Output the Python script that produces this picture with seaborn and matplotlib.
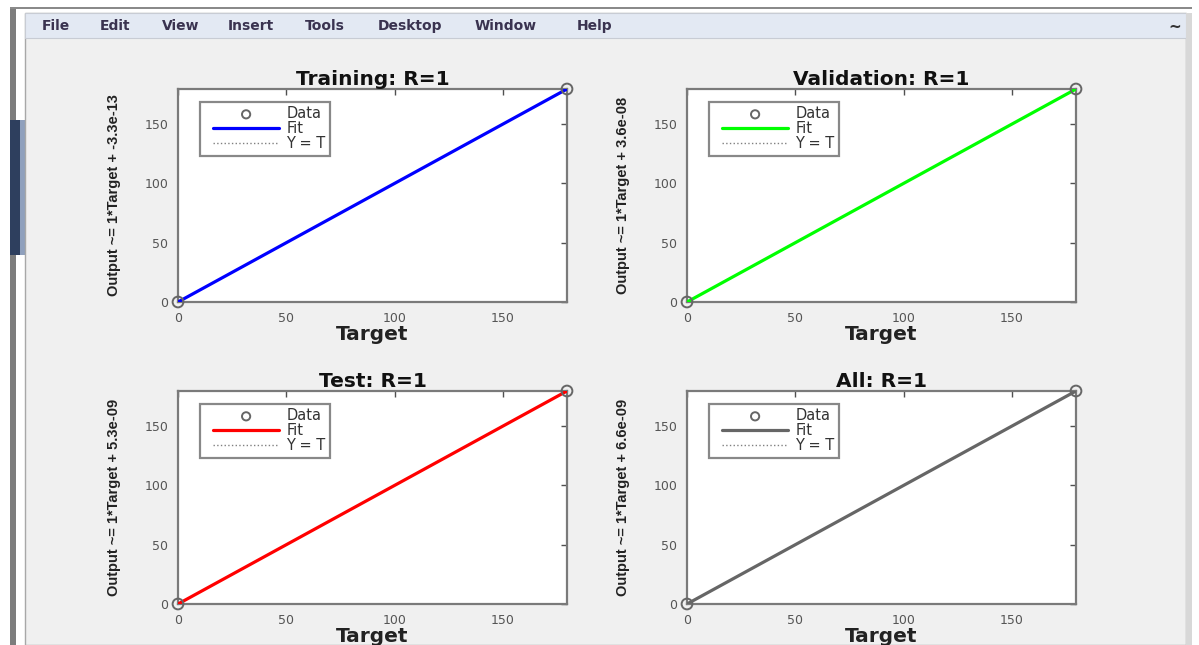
import numpy as np
import pandas as pd
import seaborn as sns
import matplotlib.pyplot as plt
from matplotlib.patches import Rectangle
from matplotlib.lines import Line2D
from matplotlib.collections import PathCollection
from matplotlib.legend_handler import HandlerLine2D, HandlerPathCollection

# regression results per data split
panels = ['Training', 'Validation', 'Test', 'All']
r_values = ['1', '1', '1', '1']
slopes = [1, 1, 1, 1]
intercepts = ['-3.3e-13', '3.6e-08', '5.3e-09', '6.6e-09']
fit_colors = ['#0000ff', '#00ff00', '#ff0000', '#666666']
target = [0, 179.5]
output = [0, 179.5]
xticks = [0, 50, 100, 150]
menu_items = ['File', 'Edit', 'View', 'Insert', 'Tools', 'Desktop', 'Window', 'Help']

sns.set_theme(style='white')
plt.rcParams['font.family'] = ['DejaVu Sans']
wide = ['DejaVu Sans']
tall = ['Liberation Sans', 'DejaVu Sans']

W, H = 1199, 645
fig = plt.figure(figsize=(W / 100, H / 100), dpi=100, facecolor='white')


def px(x, y):
    return x / W, 1 - y / H


def rect(x0, y0, x1, y1, **kw):
    fig.patches.append(Rectangle((x0 / W, 1 - y1 / H), (x1 - x0) / W, (y1 - y0) / H,
                                 transform=fig.transFigure, zorder=-10, **kw))


# window chrome
rect(10, 7, 16, 645, facecolor='#7d7d7d', edgecolor='none')
rect(10, 120, 20, 255, facecolor='#2e3f5e', edgecolor='none')
rect(20, 120, 25, 255, facecolor='#8fa0bd', edgecolor='none')
rect(10, 7, 1192, 9, facecolor='#8a8a8a', edgecolor='none')
rect(25, 13, 1186, 645, facecolor='#f0f0f0', edgecolor='#a8a8a8', linewidth=1)
rect(25, 13, 1186, 38, facecolor='#e3e9f3', edgecolor='#c8ccd4', linewidth=0.8)
rect(1186, 13, 1192, 645, facecolor='#d8d8d8', edgecolor='none')
menu_x = [42, 100, 162, 228, 305, 378, 475, 577]
for mx, item in zip(menu_x, menu_items):
    fig.text(*px(mx, 26), item, fontsize=10, fontweight='bold', color='#3a3350',
             family=wide, va='center', ha='left')
fig.text(*px(1168, 27), '~', fontsize=11, fontweight='bold', color='#333333', va='center')

positions = [(178, 89), (687, 89), (178, 391), (687, 391)]
aw, ah = 389, 213
gray = '#505050'
leg_fs = 10.5
hmap = {Line2D: HandlerLine2D(xpad=0.6),
        PathCollection: HandlerPathCollection(xpad=0.6, sizes=[35])}

for i, name in enumerate(panels):
    x0, y0 = positions[i]
    ax = fig.add_axes([x0 / W, 1 - (y0 + ah) / H, aw / W, ah / H])
    ax.set_facecolor('white')
    df = pd.DataFrame({'Target': target, 'Output': output})
    line_x = np.array(target)
    fit = pd.DataFrame({'Target': line_x, 'Fit': slopes[i] * line_x + float(intercepts[i])})

    sns.lineplot(data=fit, x='Target', y='Target', ax=ax, color='#808080',
                 linestyle=':', linewidth=1, label='Y = T', zorder=2)
    sns.lineplot(data=fit, x='Target', y='Fit', ax=ax, color=fit_colors[i],
                 linewidth=2.3, label='Fit', zorder=3)
    sns.scatterplot(data=df, x='Target', y='Output', ax=ax, marker='o', s=60,
                    facecolor='none', edgecolor='#666666', linewidth=1.4,
                    label='Data', zorder=4, clip_on=False)

    ax.set_xlim(target[0], target[-1])
    ax.set_ylim(output[0], output[-1])
    ax.set_xticks(xticks)
    ax.set_yticks(xticks)
    ax.tick_params(direction='in', length=4, width=1, colors=gray, labelsize=9,
                   top=True, right=True)
    ax.tick_params(axis='x', pad=7)
    ax.tick_params(axis='y', pad=7)
    for lab in ax.get_xticklabels() + ax.get_yticklabels():
        lab.set_color('#555555')
    for s in ax.spines.values():
        s.set_color('#7a7a7a')
        s.set_linewidth(1.6)

    ax.set_title(f'{name}: R={r_values[i]}', fontsize=14.5, fontweight='bold',
                 color='#111111', family=wide, pad=3)
    ax.set_xlabel('Target', fontsize=14.5, fontweight='bold', color='#222222',
                  family=wide, labelpad=0)
    ax.set_ylabel(f'Output ~= {slopes[i]}*Target + {intercepts[i]}', fontsize=10.5,
                  fontweight='bold', color='#222222', family=tall)
    ax.yaxis.set_label_coords(-0.147, 0.5)

    handles, labels = ax.get_legend_handles_labels()
    order = [labels.index('Data'), labels.index('Fit'), labels.index('Y = T')]
    leg = ax.legend([handles[k] for k in order], [labels[k] for k in order],
                    loc='upper left', bbox_to_anchor=(0.057, 0.94),
                    prop={'family': wide, 'size': leg_fs}, handler_map=hmap,
                    frameon=True, fancybox=False, handlelength=5.1, handletextpad=0.5,
                    borderpad=0.3, labelspacing=0.0, borderaxespad=0)
    leg.get_frame().set_edgecolor('#6a6a6a')
    leg.get_frame().set_linewidth(1.6)
    for t in leg.get_texts():
        t.set_color('#333333')

fig.savefig('out.png', dpi=100, facecolor=fig.get_facecolor())
